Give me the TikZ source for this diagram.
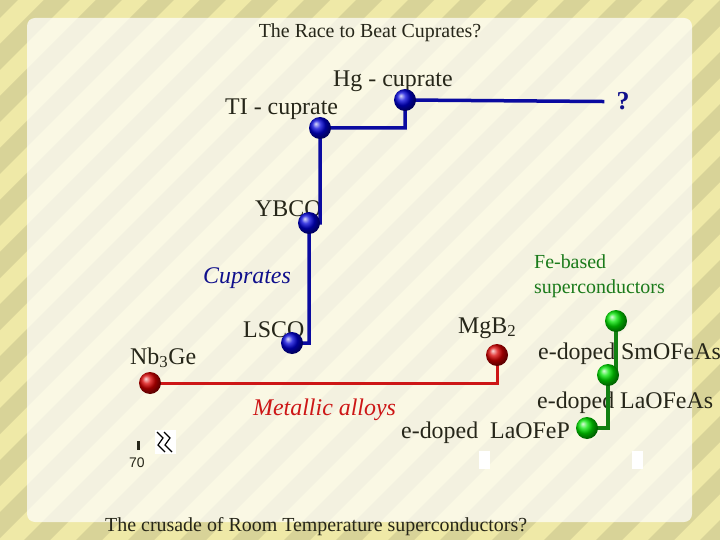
\documentclass[tikz,border=0pt]{standalone}
\usepackage{fontspec}
\setmainfont{Liberation Serif}
\setsansfont{Liberation Sans}
\definecolor{stripelight}{RGB}{239,233,167}
\definecolor{stripedark}{RGB}{216,211,152}
\definecolor{inktext}{RGB}{38,38,25}
\definecolor{cupratenavy}{RGB}{16,16,140}
\definecolor{cupratewire}{RGB}{10,10,160}
\definecolor{alloyred}{RGB}{205,22,22}
\definecolor{ironlabel}{RGB}{26,122,26}
\definecolor{ironwire}{RGB}{18,128,18}
\pgfdeclarelayer{backdrop}
\pgfdeclarelayer{words}
\pgfdeclarelayer{wires}
\pgfsetlayers{backdrop,words,wires,main}
\tikzset{
  ball/.style={circle, minimum size=22bp, inner sep=0pt, shading=ball},
  cupball/.style={ball, ball color=blue!85!black},
  alloyball/.style={ball, ball color=red!85!black},
  ironball/.style={ball, ball color=green!90!black},
  lbl/.style={inner sep=0pt, anchor=base west, text=inktext, font=\fontsize{24}{28}\selectfont},
  heading/.style={inner sep=0pt, anchor=base, text=inktext, font=\fontsize{20}{24}\selectfont},
  cupwire/.style={draw=cupratewire, line width=3.5bp},
  alloywire/.style={draw=alloyred, line width=3bp},
  fewire/.style={draw=ironwire, line width=3.5bp},
}
\begin{document}
\begin{tikzpicture}[x=1bp, y=-1bp]
  \useasboundingbox (0,0) rectangle (720,540);
  % striped backdrop and pale panel
  \begin{pgfonlayer}{backdrop}
    \fill[stripelight] (0,0) rectangle (720,540);
    \begin{scope}
      \clip (0,0) rectangle (720,540);
      \foreach \s in {0,...,25}
        \fill[stripedark] ({\s*52-8},0) -- ++(26,0) -- ++(-540,540) -- ++(-26,0) -- cycle;
    \end{scope}
    \fill[white, opacity=0.7, rounded corners=8bp] (27,18) rectangle (692,522);
  \end{pgfonlayer}

  % texts
  \begin{pgfonlayer}{words}
    \node[heading] (title) at (370,38) {The Race to Beat Cuprates?};
    \node[heading, anchor=base west] (crusade) at (105,531) {The crusade of Room Temperature superconductors?};
    \node[lbl] (hglbl) at (333,87) {Hg - cuprate};
    \node[lbl] (tllbl) at (225,115) {TI - cuprate};
    \node[inner sep=0pt, anchor=base, text=cupratenavy, font=\fontsize{26}{30}\selectfont\bfseries] (q) at (623,110) {?};
    \node[lbl] (ybcolbl) at (255,217) {YBCO};
    \node[lbl, text=cupratenavy, font=\fontsize{24}{28}\selectfont\itshape] (cuprates) at (203,284) {Cuprates};
    \node[lbl] (lscolbl) at (243,337) {LSCO};
    \node[lbl] (nbgelbl) at (130,364) {Nb\textsubscript{3}Ge};
    \node[lbl] (mgblbl) at (458,333) {MgB\textsubscript{2}};
    \node[lbl, text=ironlabel, font=\fontsize{20}{24}\selectfont] (febased) at (534,269) {Fe-based};
    \node[lbl, text=ironlabel, font=\fontsize{20}{24}\selectfont] (fesc) at (534,293) {superconductors};
    \node[lbl] (smolbl) at (538,359) {e-doped SmOFeAs};
    \node[lbl] (laolbl) at (537,408) {e-doped LaOFeAs};
    \node[lbl] (laoplbl) at (401,438) {e-doped~~LaOFeP};
    \node[lbl, text=alloyred, font=\fontsize{24}{28}\selectfont\itshape] (alloys) at (253,415) {Metallic alloys};
    \node[inner sep=0pt, anchor=base, text=inktext, font=\sffamily\fontsize{14}{16}\selectfont] (seventy) at (137,467) {70};
    \fill[inktext] (136.5,441) rectangle (139.5,450);
    % break mark
    \fill[white] (155,430) rectangle (176,454);
    \draw[black, line width=1.2bp] (157,432) -- (163,438) -- (158,445) -- (165,452);
    \draw[black, line width=1.2bp] (164,432) -- (170,438) -- (165,445) -- (172,452);
    % small white marks
    \fill[white] (479,451) rectangle (490,469);
    \fill[white] (632,451) rectangle (643,469);
  \end{pgfonlayer}

  % balls
  \node[cupball] (hg) at (405,100) {};
  \node[cupball] (tl) at (320,128) {};
  \node[cupball] (ybco) at (309,223) {};
  \node[cupball] (lsco) at (292,343) {};
  \node[alloyball] (nbge) at (150,383) {};
  \node[alloyball] (mgb) at (497,355) {};
  \node[ironball] (smo) at (616,321) {};
  \node[ironball] (lao) at (608,375) {};
  \node[ironball] (laop) at (587,428) {};

  % connectors
  \begin{pgfonlayer}{wires}
    \draw[cupwire, shorten >=12bp] (lsco.center) -| (ybco.center) -| (tl.center) -| (hg.center) -- (q.west);
    \draw[alloywire] (nbge.center) -| (mgb.center);
    \draw[fewire] (smo.center) |- (lao.center) |- (laop.center);
  \end{pgfonlayer}
\end{tikzpicture}
\end{document}
